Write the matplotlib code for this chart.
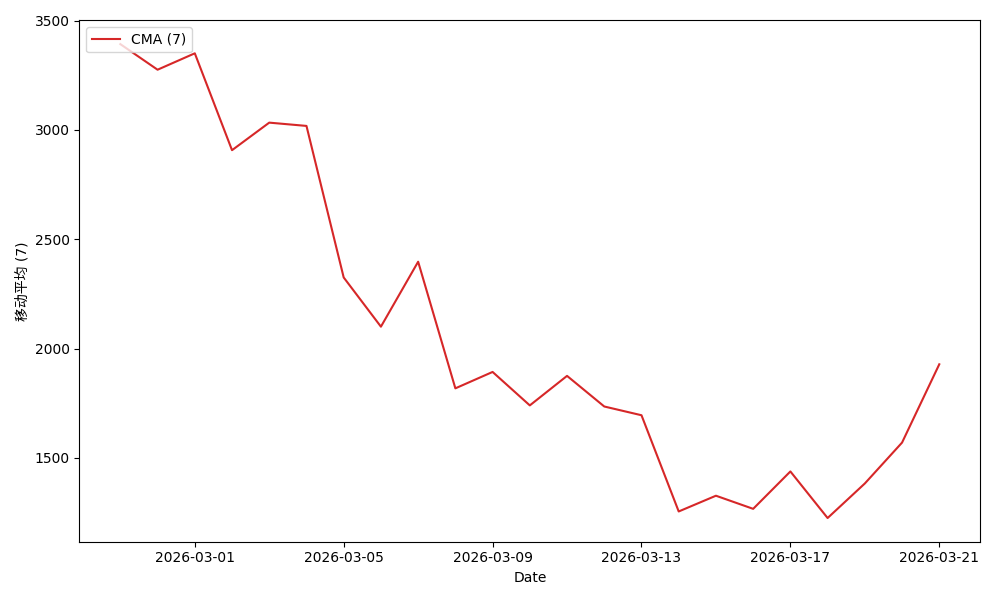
import numpy as np
import pandas as pd
import matplotlib
matplotlib.use("Agg")
import matplotlib.pyplot as plt

plt.rcParams['font.family'] = ['DejaVu Sans', 'Noto Sans CJK SC']

dates = pd.date_range("2026-02-27", "2026-03-21", freq="D")
cma = [3392, 3275, 3350, 2907, 3033, 3018, 2325, 2100, 2397, 1818,
       1893, 1740, 1875, 1735, 1695, 1255, 1327, 1267, 1438, 1225,
       1383, 1570, 1928]

fig, ax = plt.subplots(figsize=(10, 6), dpi=100)
ax.plot(dates, cma, color="tab:red", label="CMA (7)")
ax.set_xlabel("Date")
ax.set_ylabel("移动平均 (7)")
ax.legend(loc="upper left")
plt.tight_layout()
plt.savefig("out.png")
